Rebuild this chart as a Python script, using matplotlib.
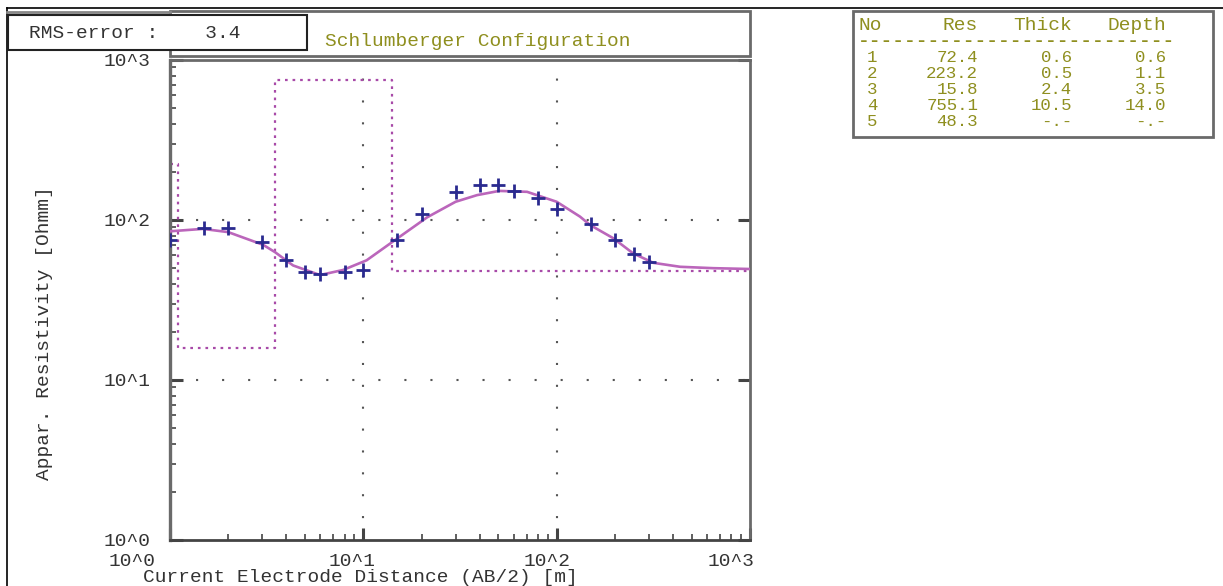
import matplotlib
matplotlib.use('Agg')
import matplotlib.pyplot as plt
import matplotlib.transforms as mtransforms
from matplotlib.patches import Rectangle
from matplotlib.lines import Line2D

# measured data (AB/2 in m, apparent resistivity in Ohmm)
ab2 = [1.0, 1.5, 2.0, 3.0, 4.0, 5.0, 6.0, 8.0, 10, 15, 20, 30, 40, 50, 60, 80,
       100, 150, 200, 250, 300]
rho_obs = [75, 89, 89, 73, 56, 47, 46, 47, 49, 75, 109, 150, 165, 165, 152,
           137, 117, 94, 75, 61, 55]

# fitted model curve
curve_x = [1.0, 1.48, 2.0, 3.03, 3.49, 4.33, 5.97, 7.85, 10.4, 14.6, 21.4, 30,
           38.7, 50.4, 70.3, 100, 132, 149, 196, 248, 316, 435, 644, 1000]
curve_rho = [85, 88, 84, 70, 63, 52, 45.3, 48.7, 56, 75, 104, 130, 143, 152,
             150, 130, 105, 93, 77, 62, 54, 51, 50, 49.4]

# layer table
layer_no = ['1', '2', '3', '4', '5']
layer_res = ['72.4', '223.2', '15.8', '755.1', '48.3']
layer_thick = ['0.6', '0.5', '2.4', '10.5', '-.-']
layer_depth = ['0.6', '1.1', '3.5', '14.0', '-.-']
res_vals = [72.4, 223.2, 15.8, 755.1, 48.3]
depth_vals = [0.6, 1.1, 3.5, 14.0]

rms_text = 'RMS-error :    3.4'
title_text = 'Schlumberger Configuration'
xticks = [1, 10, 100, 1000]
xticklabels = ['10^0', '10^1', '10^2', '10^3']
yticks = [1, 10, 100, 1000]
yticklabels = ['10^0', '10^1', '10^2', '10^3']

W, H = 1223, 586
olive = '#8f8f1f'
dark = '#333333'
frame_gray = '#6a6a6a'

plt.rcParams['font.family'] = ['Liberation Mono', 'DejaVu Sans Mono']
plt.rcParams['font.size'] = 14


def fx(px):
    return px / W


def fy(py):
    return 1 - py / H


fig = plt.figure(figsize=(W / 100, H / 100), dpi=100)
ax = fig.add_axes([fx(170), fy(540), fx(750) - fx(170), fy(60) - fy(540)])
ax.set_xscale('log')
ax.set_yscale('log')
ax.set_xlim(1, 1000)
ax.set_ylim(1, 1000)

# model steps from the table
step_x = [0.1] + depth_vals + [1000]
step_y = res_vals + [res_vals[-1]]
ax.step(step_x, step_y, where='post', color='#a84aa8', lw=1.6,
        linestyle=(0, (1.2, 2.2)), zorder=2)
ax.plot(curve_x, curve_rho, color='#bb66bb', lw=1.9, zorder=3)
ax.plot(ab2, rho_obs, '+', color='#2a2a8f', ms=10, mew=2, zorder=4)

# dotted grid at the decades
for v in [10, 100]:
    ax.axhline(v, color='#555555', lw=1.5, linestyle=(0, (1, 11.5)), zorder=1)
    ax.axvline(v, color='#555555', lw=1.5, linestyle=(0, (1, 9.5)), zorder=1)

ax.set_xticks(xticks)
ax.set_xticklabels(xticklabels)
ax.set_yticks(yticks)
ax.set_yticklabels(yticklabels)
ax.tick_params(which='major', direction='in', length=9, width=2.2,
               color='#444444', left=True, right=True, bottom=True, top=False,
               labelcolor=dark, labelsize=14)
ax.tick_params(which='minor', direction='in', length=4, width=1.2,
               color='#444444', left=True, right=False, bottom=True, top=False)
ax.tick_params(axis='y', pad=14)
ax.tick_params(axis='x', pad=9)
xlab_dx = [-38, -11, -10, -19]
for lab, dx in zip(ax.get_xticklabels(), xlab_dx):
    lab.set_transform(lab.get_transform() +
                      mtransforms.ScaledTranslation(dx / 100, 0, fig.dpi_scale_trans))

for side in ['left', 'right', 'bottom', 'top']:
    ax.spines[side].set_color(frame_gray)
    ax.spines[side].set_linewidth(2.0)
ax.spines['left'].set_linewidth(2.4)
ax.spines['bottom'].set_color('#444444')

fig.text(fx(45), fy(333), 'Appar. Resistivity [Ohmm]', rotation=90,
         ha='center', va='center', color=dark)
fig.text(fx(360), fy(578), 'Current Electrode Distance (AB/2) [m]',
         ha='center', va='center', color=dark)

# outer frame
fig.add_artist(Line2D([fx(7), fx(1223)], [fy(8), fy(8)], color='black', lw=1.2,
                      transform=fig.transFigure))
fig.add_artist(Line2D([fx(7), fx(7)], [fy(8), fy(586)], color='black', lw=1.2,
                      transform=fig.transFigure))

# header box
fig.add_artist(Rectangle((fx(170), fy(56)), fx(750) - fx(170), fy(11) - fy(56),
                         fill=False, edgecolor=frame_gray, lw=2.0,
                         transform=fig.transFigure))
fig.add_artist(Line2D([fx(7), fx(170)], [fy(12), fy(12)], color='#888888', lw=2.0,
                      transform=fig.transFigure))
fig.add_artist(Rectangle((fx(8), fy(50)), fx(307) - fx(8), fy(15) - fy(50),
                         facecolor='white', edgecolor='#222222', lw=1.5,
                         transform=fig.transFigure, zorder=5))
fig.text(fx(29), fy(33), rms_text, ha='left', va='center', color=dark, zorder=6)
fig.text(fx(325), fy(42), title_text, ha='left', va='center', color=olive)

# layer table
fig.add_artist(Rectangle((fx(853), fy(137)), fx(1213) - fx(853), fy(11) - fy(137),
                         fill=False, edgecolor=frame_gray, lw=2.0,
                         transform=fig.transFigure))
fig.text(fx(859), fy(26), 'No', ha='left', va='center', color=olive)
fig.text(fx(978), fy(26), 'Res', ha='right', va='center', color=olive)
fig.text(fx(1072), fy(26), 'Thick', ha='right', va='center', color=olive)
fig.text(fx(1166), fy(26), 'Depth', ha='right', va='center', color=olive)
fig.text(fx(858), fy(42), '-' * 27, ha='left', va='center', color=olive,
         fontsize=14, fontweight='bold')
row_y = [57, 73, 89, 105, 121]
for i in range(5):
    y = fy(row_y[i])
    fig.text(fx(872), y, layer_no[i], ha='center', va='center', color=olive, fontsize=12.5)
    fig.text(fx(978), y, layer_res[i], ha='right', va='center', color=olive, fontsize=12.5)
    fig.text(fx(1072), y, layer_thick[i], ha='right', va='center', color=olive, fontsize=12.5)
    fig.text(fx(1166), y, layer_depth[i], ha='right', va='center', color=olive, fontsize=12.5)

fig.savefig('out.png', dpi=100)
